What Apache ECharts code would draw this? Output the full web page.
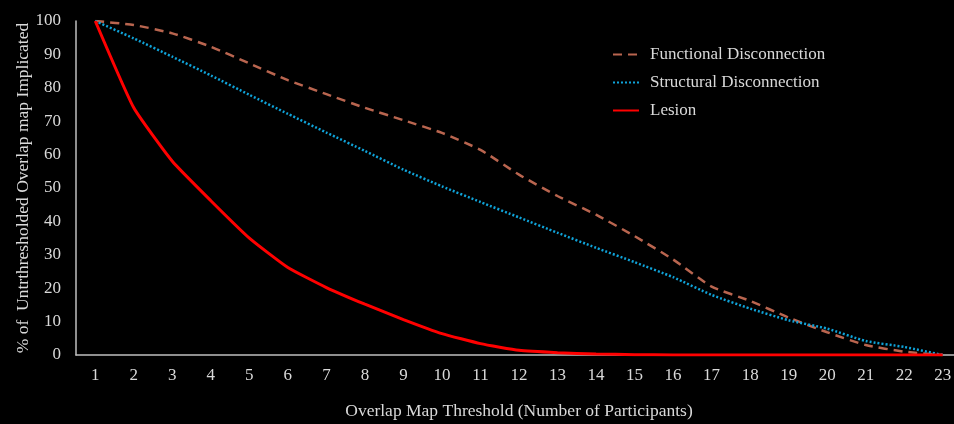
<!DOCTYPE html>
<html>
<head>
<meta charset="utf-8">
<script src="https://cdn.jsdelivr.net/npm/echarts@6/dist/echarts.min.js"></script>
<style>
  html, body { margin: 0; padding: 0; background: #000; }
  #chart { width: 954px; height: 424px; }
</style>
</head>
<body>
<div id="chart"></div>
<script>
// Overlap map threshold (number of participants)
const thresholds = ['1','2','3','4','5','6','7','8','9','10','11','12','13','14','15','16','17','18','19','20','21','22','23'];

// % of the unthresholded overlap map still implicated at each threshold
const functionalDisconnection = [100, 98.8, 96.3, 92.3, 87.3, 82.3, 78.1, 74.0, 70.3, 66.5, 61.4, 54.0, 47.6, 42.0, 35.6, 28.6, 20.5, 16.2, 11.2, 6.8, 3.0, 1.0, 0];
const structuralDisconnection = [100, 94.8, 89.3, 83.7, 77.9, 72.2, 66.6, 61.1, 55.5, 50.5, 45.8, 41.2, 36.6, 32.1, 27.8, 23.3, 18.0, 13.9, 10.4, 7.9, 4.2, 2.4, 0];
const lesion = [100, 74.0, 58.0, 46.2, 35.0, 26.2, 20.2, 15.2, 10.6, 6.4, 3.4, 1.4, 0.7, 0.3, 0.1, 0, 0, 0, 0, 0, 0, 0, 0];

const yTicks = { min: 0, max: 100, interval: 10 };

const font = '"Liberation Serif", "Times New Roman", serif';
const textColor = '#d9d9d9';
const axisColor = '#bfbfbf';

const chart = echarts.init(document.getElementById('chart'));
chart.setOption({
  backgroundColor: '#000000',
  animation: false,
  grid: { left: 76, right: -8, top: 21, bottom: 69, containLabel: false, outerBoundsMode: 'none' },
  legend: {
    orient: 'vertical',
    left: 612,
    top: 46,
    padding: 0,
    itemWidth: 26,
    itemHeight: 12,
    itemGap: 11,
    itemStyle: { opacity: 0 },
    textStyle: { color: textColor, fontFamily: font, fontSize: 17, padding: [0, 0, 0, 6] },
    data: ['Functional Disconnection', 'Structural Disconnection', 'Lesion']
  },
  xAxis: {
    type: 'category',
    data: thresholds,
    boundaryGap: true,
    name: 'Overlap Map Threshold (Number of Participants)',
    nameLocation: 'middle',
    nameGap: 47,
    nameMoveOverlap: false,
    nameTextStyle: { color: textColor, fontFamily: font, fontSize: 17.5 },
    axisLine: { show: true, lineStyle: { color: axisColor, width: 1.5 } },
    axisTick: { show: false },
    axisLabel: { color: textColor, fontFamily: font, fontSize: 17, margin: 12, interval: 0 },
    splitLine: { show: false }
  },
  yAxis: {
    type: 'value',
    min: yTicks.min,
    max: yTicks.max,
    interval: yTicks.interval,
    name: '% of  Untrthresholded Overlap map Implicated',
    nameLocation: 'middle',
    nameGap: 44,
    nameMoveOverlap: false,
    nameTextStyle: { color: textColor, fontFamily: font, fontSize: 17.5 },
    axisLine: { show: true, lineStyle: { color: axisColor, width: 1.5 } },
    axisTick: { show: false },
    axisLabel: { color: textColor, fontFamily: font, fontSize: 17, margin: 15 },
    splitLine: { show: false }
  },
  series: [
    {
      name: 'Functional Disconnection',
      type: 'line',
      data: functionalDisconnection,
      symbol: 'none',
      smooth: 0.2,
      z: 2,
      itemStyle: { color: '#b9654f' },
      lineStyle: { color: '#b9654f', width: 2.5, type: [9, 6] }
    },
    {
      name: 'Structural Disconnection',
      type: 'line',
      data: structuralDisconnection,
      symbol: 'none',
      smooth: 0.2,
      z: 3,
      itemStyle: { color: '#0fa3d9' },
      lineStyle: { color: '#0fa3d9', width: 2.5, type: [2, 2] }
    },
    {
      name: 'Lesion',
      type: 'line',
      data: lesion,
      symbol: 'none',
      smooth: 0.15,
      z: 4,
      itemStyle: { color: '#ff0000' },
      lineStyle: { color: '#ff0000', width: 3 }
    }
  ]
});
</script>
</body>
</html>
